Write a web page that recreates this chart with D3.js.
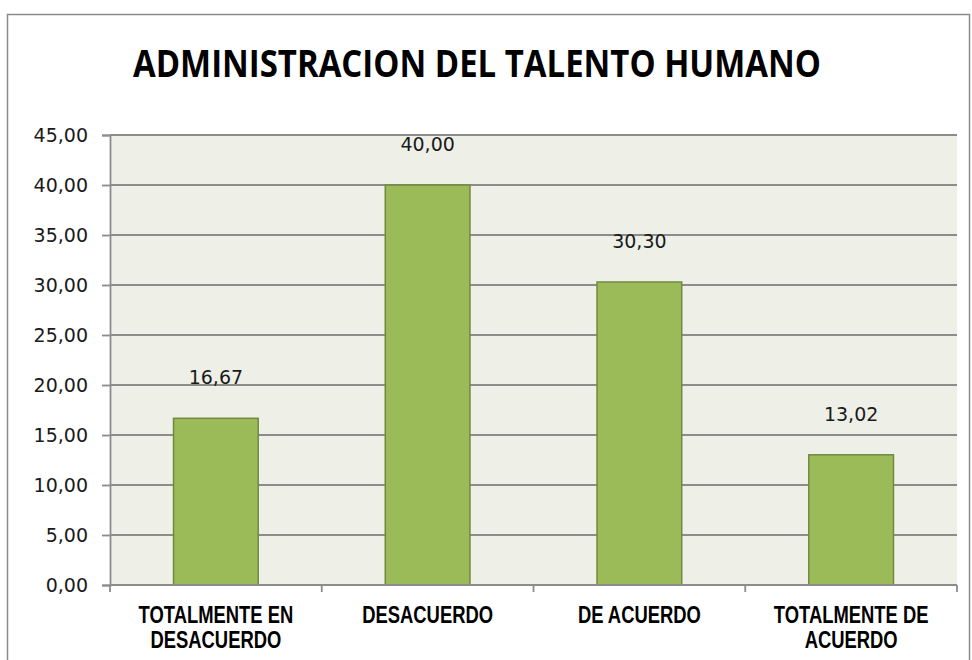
<!DOCTYPE html>
<html>
<head>
<meta charset="utf-8">
<script src="https://cdn.jsdelivr.net/npm/d3@7"></script>
<style>
  body { margin: 0; background: #fff; }
</style>
</head>
<body>
<div id="chart"></div>
<script>
// data
var categories = [["TOTALMENTE EN", "DESACUERDO"], ["DESACUERDO"], ["DE ACUERDO"], ["TOTALMENTE DE", "ACUERDO"]];
var values = [16.67, 40.00, 30.30, 13.02];
var yTicks = [0, 5, 10, 15, 20, 25, 30, 35, 40, 45];
var title = "ADMINISTRACION DEL TALENTO HUMANO";

var svgWidth = 972;
var svgHeight = 660;

var plot = { left: 110, right: 957, top: 135, bottom: 585 };

var svg = d3.select("#chart")
  .append("svg")
  .attr("width", svgWidth)
  .attr("height", svgHeight);

var locale = d3.formatLocale({ decimal: ",", thousands: ".", grouping: [3], currency: ["", ""] });
var fmt = locale.format(".2f");

// outer frame
svg.append("rect")
  .attr("x", 7.5)
  .attr("y", 14.5)
  .attr("width", 962)
  .attr("height", 700)
  .attr("fill", "none")
  .attr("stroke", "#8c8c8c")
  .attr("stroke-width", 1.5);

// title
svg.append("text")
  .attr("x", 133)
  .attr("y", 77)
  .attr("textLength", 688)
  .attr("lengthAdjust", "spacingAndGlyphs")
  .attr("font-family", "'Open Sans', sans-serif")
  .attr("font-weight", "bold")
  .attr("font-size", 38)
  .attr("fill", "#000")
  .text(title);

var x = d3.scaleBand()
  .domain(d3.range(categories.length))
  .range([plot.left, plot.right])
  .paddingInner(0.6)
  .paddingOuter(0.3);

var y = d3.scaleLinear()
  .domain([0, 45])
  .range([plot.bottom, plot.top]);

// plot background
svg.append("rect")
  .attr("x", plot.left)
  .attr("y", plot.top)
  .attr("width", plot.right - plot.left)
  .attr("height", plot.bottom - plot.top)
  .attr("fill", "#eef0e8");

// gridlines
svg.append("g")
  .selectAll("line")
  .data(yTicks.filter(d => d > 0))
  .enter()
  .append("line")
  .attr("x1", plot.left)
  .attr("x2", plot.right)
  .attr("y1", d => y(d))
  .attr("y2", d => y(d))
  .attr("stroke", "#8c8c8c")
  .attr("stroke-width", 1.8);

// y axis
var leftAxis = d3.axisLeft(y)
  .tickValues(yTicks)
  .tickSize(8)
  .tickPadding(14)
  .tickFormat(fmt);

var yAxis = svg.append("g")
  .attr("transform", `translate(${plot.left}, 0)`)
  .call(leftAxis);

yAxis.select(".domain").attr("stroke", "#8c8c8c").attr("stroke-width", 1.8);
yAxis.selectAll(".tick line").attr("stroke", "#8c8c8c").attr("stroke-width", 1.8);
yAxis.selectAll(".tick text")
  .attr("font-family", "'DejaVu Sans', sans-serif")
  .attr("font-size", 19)
  .attr("fill", "#1a1a1a");

// bars
svg.append("g")
  .selectAll("rect")
  .data(values)
  .enter()
  .append("rect")
  .attr("x", (d, i) => x(i))
  .attr("y", d => y(d))
  .attr("width", x.bandwidth())
  .attr("height", d => y(0) - y(d))
  .attr("fill", "#9bbb59")
  .attr("stroke", "#71893f")
  .attr("stroke-width", 1.5);

// value labels
svg.append("g")
  .selectAll("text")
  .data(values)
  .enter()
  .append("text")
  .attr("x", (d, i) => x(i) + x.bandwidth() / 2)
  .attr("y", d => y(d) - 34)
  .attr("text-anchor", "middle")
  .attr("font-family", "'DejaVu Sans', sans-serif")
  .attr("font-size", 19)
  .attr("fill", "#1a1a1a")
  .text(d => fmt(d));

// x axis line + ticks at category boundaries
svg.append("line")
  .attr("x1", plot.left)
  .attr("x2", plot.right)
  .attr("y1", plot.bottom)
  .attr("y2", plot.bottom)
  .attr("stroke", "#8c8c8c")
  .attr("stroke-width", 1.8);

var bounds = d3.range(categories.length + 1).map(i => plot.left + i * x.step());
svg.append("g")
  .selectAll("line")
  .data(bounds)
  .enter()
  .append("line")
  .attr("x1", d => d)
  .attr("x2", d => d)
  .attr("y1", plot.bottom)
  .attr("y2", plot.bottom + 7)
  .attr("stroke", "#8c8c8c")
  .attr("stroke-width", 1.8);

// category labels
var catGroup = svg.append("g")
  .selectAll("g")
  .data(categories)
  .enter()
  .append("g")
  .attr("transform", (d, i) => `translate(${x(i) + x.bandwidth() / 2}, 623) scale(0.8, 1)`);

catGroup.selectAll("text")
  .data(d => d)
  .enter()
  .append("text")
  .attr("y", (d, j) => j * 25)
  .attr("text-anchor", "middle")
  .attr("font-family", "'Liberation Sans', Arial, sans-serif")
  .attr("font-weight", "bold")
  .attr("font-size", 23)
  .attr("fill", "#000")
  .text(d => d);
</script>
</body>
</html>
